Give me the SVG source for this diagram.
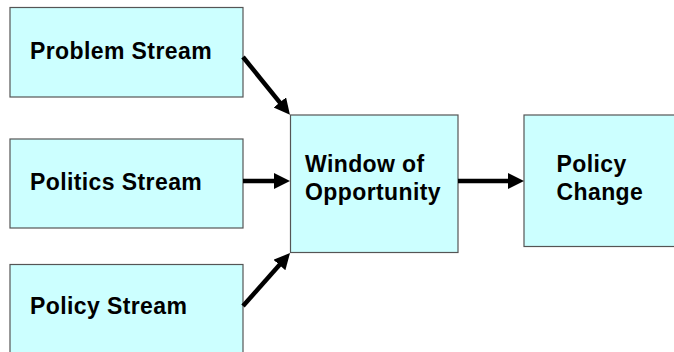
<svg xmlns="http://www.w3.org/2000/svg" width="674" height="352" viewBox="0 0 674 352">
  <style>
    .box { fill: #CCFFFF; stroke: #555555; stroke-width: 1.2; }
    .lbl { font-family: "Liberation Sans", Arial, sans-serif; font-weight: bold; font-size: 23px; letter-spacing: 0.4px; fill: #000000; }
    .conn { stroke: #000000; stroke-width: 4.5; fill: none; marker-end: url(#ah); }
  </style>
  <defs>
    <marker id="ah" markerUnits="userSpaceOnUse" markerWidth="18" markerHeight="18" refX="5" refY="8" orient="auto">
      <path d="M0,0 L16,8 L0,16 z" fill="#000000"/>
    </marker>
  </defs>
  <rect width="674" height="352" fill="#FFFFFF"/>
  <g id="problem">
    <rect class="box" x="10" y="7.5" width="233" height="89.5"/>
    <text class="lbl" x="30" y="58.5">Problem Stream</text>
  </g>
  <g id="politics">
    <rect class="box" x="10" y="139" width="233" height="89"/>
    <text class="lbl" x="30" y="189.5">Politics Stream</text>
  </g>
  <g id="policy">
    <rect class="box" x="10" y="264.5" width="233" height="100"/>
    <text class="lbl" x="30" y="313.5">Policy Stream</text>
  </g>
  <g id="window">
    <rect class="box" x="290.5" y="115" width="167.5" height="137.5"/>
    <text class="lbl" x="305" y="171.5">Window of</text>
    <text class="lbl" x="305" y="200">Opportunity</text>
  </g>
  <g id="change">
    <rect class="box" x="524" y="115" width="160" height="131.5"/>
    <text class="lbl" x="556.5" y="171.5">Policy</text>
    <text class="lbl" x="556.5" y="200">Change</text>
  </g>
  <g id="connectors">
    <line class="conn" x1="243" y1="57" x2="283" y2="106.3"/>
    <line class="conn" x1="243" y1="181" x2="279" y2="181"/>
    <line class="conn" x1="243" y1="306" x2="282.7" y2="261.3"/>
    <line class="conn" x1="458" y1="181" x2="513" y2="181"/>
  </g>
</svg>
